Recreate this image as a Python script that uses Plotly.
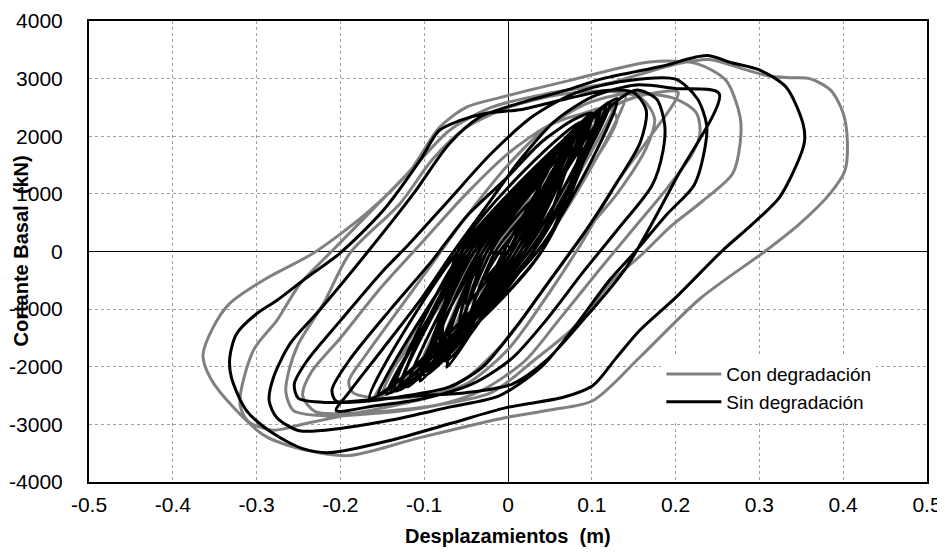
import plotly.graph_objects as go

# ---------------- Data ----------------
# Ticks
x_ticks = [-0.5, -0.4, -0.3, -0.2, -0.1, 0, 0.1, 0.2, 0.3, 0.4, 0.5]
x_tick_labels = ["-0.5", "-0.4", "-0.3", "-0.2", "-0.1", "0", "0.1", "0.2", "0.3", "0.4", "0.5"]
y_ticks = [-4000, -3000, -2000, -1000, 0, 1000, 2000, 3000, 4000]
y_tick_labels = ["-4000", "-3000", "-2000", "-1000", "0", "1000", "2000", "3000", "4000"]

series_names = ["Con degradación", "Sin degradación"]
x_title = "Desplazamientos  (m)"
y_title = "Cortante Basal  (kN)"

# "Con degradación" - small cycles of the dense core (displacement m, shear kN)
con_nucleo = [
    (0.0, 0),
    (-0.025, 0), (0.035, 1000), (0.005, 0), (-0.055, -1000),
    (-0.035, 0), (0.07, 1800), (0.01, 0), (-0.08, -1700),
    (-0.03, 0), (0.095, 2200), (0.015, 0), (-0.10, -2100),
    (-0.04, 0), (0.12, 2500), (0.02, 0), (-0.13, -2400),
    (-0.045, 0), (0.085, 2100), (0.01, 0), (-0.11, -2200),
    (-0.035, 0), (0.13, 2650), (0.025, 0), (-0.15, -2500),
    (-0.05, 0), (0.14, 2700), (0.035, 0), (-0.16, -2550),
    (-0.03, 0), (0.06, 1500), (0.005, 0), (-0.065, -1400),
    (-0.02, 0), (0.03, 800), (0.0, 0), (-0.035, -600),
]

# "Con degradación" - large cycles
con_ciclos = [
    (-0.01, 0), (0.04, 1100), (0.09, 2000), (0.13, 2550), (0.17, 2740), (0.203, 2760),
    (0.17, 2000), (0.13, 1200), (0.09, 200), (0.05, -700), (0.0, -1700), (-0.05, -2300),
    (-0.10, -2500), (-0.15, -2550), (-0.185, -2450), (-0.19, -2250),
    (-0.17, -1800), (-0.13, -1000), (-0.09, -200), (-0.05, 600), (0.0, 1500), (0.05, 2200),
    (0.10, 2600), (0.15, 2750), (0.20, 2650), (0.225, 2400), (0.229, 2040), (0.22, 1700),
    (0.19, 1100), (0.15, 400), (0.11, -300), (0.06, -1200), (0.02, -1900), (-0.03, -2400),
    (-0.08, -2650), (-0.15, -2800), (-0.22, -2850), (-0.256, -2760), (-0.265, -2450), (-0.262, -2100),
    (-0.25, -1600), (-0.22, -900), (-0.189, -35), (-0.129, 830), (-0.09, 1600), (-0.05, 2150),
    (0.0, 2500), (0.06, 2720), (0.12, 2780), (0.16, 2650), (0.175, 2300), (0.165, 1800),
    (0.13, 1000), (0.09, 300), (0.04, -700), (0.0, -1500), (-0.05, -2200), (-0.10, -2550),
    (-0.18, -2800), (-0.24, -2980), (-0.28, -3100), (-0.31, -2950), (-0.32, -2640),
    (-0.304, -1720), (-0.276, -1200), (-0.248, -560), (-0.213, -35), (-0.16, 750), (-0.11, 1500),
    (-0.07, 2100), (-0.02, 2500), (0.05, 2750), (0.12, 2920), (0.20, 3250), (0.24, 3330),
    (0.28, 3170), (0.31, 3050), (0.336, 3015), (0.36, 3000), (0.385, 2800), (0.40, 2400),
    (0.405, 1900), (0.402, 1400), (0.384, 1000), (0.348, 480), (0.308, 17), (0.229, -820),
    (0.157, -1840), (0.101, -2590), (0.05, -2750), (-0.002, -2880), (-0.105, -3230),
    (-0.189, -3540), (-0.24, -3450), (-0.29, -3200), (-0.328, -2700), (-0.355, -2200),
    (-0.364, -1800), (-0.352, -1320), (-0.332, -900), (-0.29, -480), (-0.233, -35),
    (-0.169, 660), (-0.117, 1400), (-0.082, 2150), (-0.05, 2500), (-0.01, 2670), (0.074, 2970),
    (0.169, 3290), (0.225, 3260), (0.26, 2970), (0.277, 2330), (0.277, 1875), (0.268, 1350),
    (0.233, 885), (0.193, 420), (0.161, -35), (0.125, -500), (0.08, -1300), (0.03, -1900),
    (-0.02, -2450), (-0.10, -2700), (-0.18, -2800), (-0.23, -2780), (-0.245, -2500),
    (-0.235, -2100), (-0.20, -1500), (-0.15, -600), (-0.10, 200), (-0.05, 1000), (0.0, 1700),
    (0.05, 2200), (0.09, 2400), (0.12, 2500), (0.13, 2300), (0.10, 1500), (0.05, 500), (0.0, 0),
]

# "Sin degradación" - small cycles of the dense core
sin_nucleo = [
    (0.0, 0),
    (-0.02, 0), (0.03, 900), (0.0, 0), (-0.05, -900),
    (-0.03, 0), (0.06, 1600), (0.005, 0), (-0.07, -1500),
    (-0.03, 0), (0.086, 2220), (0.01, 0), (-0.097, -2070),
    (-0.035, 0), (0.10, 2400), (0.015, 0), (-0.073, -2010),
    (-0.02, 0), (0.07, 1900), (0.0, 0), (-0.054, -1370),
    (-0.025, 0), (0.117, 2530), (0.02, 0), (-0.12, -2350),
    (-0.04, 0), (0.09, 2150), (0.01, 0), (-0.105, -2250),
    (-0.04, 0), (0.122, 2600), (0.025, 0), (-0.14, -2450),
    (-0.045, 0), (0.08, 2050), (0.0, 0), (-0.085, -1950),
    (-0.03, 0), (0.05, 1500), (-0.005, 0), (-0.06, -1600),
    (-0.035, 0), (0.11, 2450), (0.02, 0), (-0.155, -2500),
    (-0.05, 0), (0.095, 2300), (0.015, 0), (-0.11, -2200),
    (-0.03, 0), (0.075, 2000), (0.005, 0), (-0.08, -1800),
    (-0.055, 0), (0.105, 2350), (0.03, 0), (-0.13, -2400),
    (-0.045, 0), (0.065, 1750), (0.01, 0), (-0.095, -2100),
    (-0.05, 0), (0.115, 2500), (0.03, 0), (-0.145, -2480),
    (-0.04, 0), (0.085, 2100), (0.02, 0), (-0.075, -1900),
    (-0.06, 0), (0.09, 2250), (0.04, 0), (-0.125, -2300),
    (-0.05, 0), (0.13, 2650), (0.035, 0), (-0.165, -2550),
    (-0.06, 0), (0.075, 1950), (0.03, 0), (-0.10, -2150),
    (-0.045, 0), (0.105, 2400), (0.04, 0), (-0.135, -2420),
    (-0.055, 0), (0.06, 1700), (0.02, 0), (-0.09, -2000),
    (-0.025, 0), (0.04, 1200), (0.0, 0), (-0.045, -1100),
    (-0.015, 0), (0.025, 700), (0.0, 0), (-0.03, -500),
]

# "Sin degradación" - large cycles
sin_ciclos = [
    (-0.01, 0), (0.03, 700), (0.07, 1500), (0.10, 2100), (0.125, 2550), (0.153, 2800),
    (0.177, 2650), (0.187, 2200), (0.185, 1750), (0.172, 1150), (0.133, 420), (0.09, -350),
    (0.045, -1200), (0.005, -1850), (-0.04, -2280), (-0.10, -2550), (-0.16, -2680), (-0.205, -2760),
    (-0.19, -2450), (-0.15, -1700), (-0.105, -850), (-0.065, 0), (-0.025, 800), (0.015, 1600),
    (0.055, 2250), (0.10, 2680), (0.153, 2890), (0.20, 2830), (0.252, 2740),
    (0.20, 1250), (0.141, -280), (0.095, -1100), (0.045, -1900), (0.005, -2300), (-0.05, -2450),
    (-0.105, -2500), (-0.17, -2580), (-0.215, -2620), (-0.25, -2550), (-0.255, -2300),
    (-0.24, -1900), (-0.20, -1200), (-0.15, -350), (-0.12, 100), (-0.07, 900), (-0.02, 1700),
    (0.03, 2350), (0.08, 2750), (0.14, 2960), (0.20, 2990), (0.226, 2650), (0.237, 2200),
    (0.235, 1800), (0.222, 1150), (0.19, 650), (0.152, 0), (0.121, -500), (0.08, -1300),
    (0.04, -2000), (-0.01, -2500), (-0.07, -2700), (-0.141, -2930), (-0.20, -3070),
    (-0.249, -3110), (-0.276, -2880), (-0.285, -2590),
    (-0.28, -2190), (-0.26, -1600), (-0.225, -1020), (-0.169, -35), (-0.113, 1000), (-0.07, 1870),
    (-0.034, 2330), (0.02, 2600), (0.07, 2800), (0.113, 3000), (0.185, 3220), (0.237, 3400),
    (0.268, 3270), (0.30, 3150), (0.332, 2850), (0.352, 2220), (0.354, 1930), (0.348, 1630),
    (0.324, 940), (0.292, 480), (0.256, 17), (0.20, -800), (0.157, -1370), (0.129, -1850),
    (0.101, -2330), (0.066, -2530), (-0.002, -2710), (-0.07, -2990), (-0.141, -3280),
    (-0.213, -3490), (-0.245, -3420), (-0.28, -3160), (-0.312, -2760), (-0.33, -2190),
    (-0.332, -1840), (-0.324, -1430), (-0.30, -1080), (-0.276, -850), (-0.24, -450), (-0.201, -35),
    (-0.149, 710), (-0.105, 1580), (-0.082, 2100), (-0.058, 2270), (-0.026, 2400), (0.014, 2460),
    (0.07, 2650), (0.12, 2800), (0.15, 2760), (0.165, 2450), (0.158, 1900), (0.13, 1200),
    (0.09, 300), (0.05, -500), (0.01, -1300), (-0.03, -2000), (-0.07, -2350), (-0.12, -2500),
    (-0.17, -2600), (-0.205, -2600), (-0.21, -2400),
    (-0.19, -1900), (-0.14, -1000), (-0.09, -150), (-0.05, 600), (0.0, 1300), (0.04, 1900),
    (0.08, 2300), (0.10, 2400), (0.09, 1900), (0.05, 1000), (0.0, 0),
]

# ---------------- Figure ----------------
def unzip(*segments):
    xs, ys = [], []
    for seg in segments:
        for x, y in seg:
            xs.append(x)
            ys.append(y)
    return xs, ys

con_x, con_y = unzip(con_nucleo, con_ciclos)
sin_x, sin_y = unzip(sin_nucleo, sin_ciclos)

FONT = "Liberation Sans, Arial, sans-serif"

fig = go.Figure()
fig.add_trace(go.Scatter(
    x=con_x, y=con_y, mode="lines", name=series_names[0],
    line=dict(color="rgb(128,128,128)", width=3, shape="spline", smoothing=0.8),
))
fig.add_trace(go.Scatter(
    x=sin_x, y=sin_y, mode="lines", name=series_names[1],
    line=dict(color="black", width=3, shape="spline", smoothing=0.8),
))

axis_common = dict(
    showline=True, linecolor="black", linewidth=2, mirror=True,
    showgrid=True, gridcolor="#a0a0a0", gridwidth=1, griddash="dot",
    zeroline=True, zerolinecolor="black", zerolinewidth=1,
    ticks="", tickfont=dict(family=FONT, size=21, color="black"),
    automargin=False,
)

fig.update_xaxes(
    range=[-0.5, 0.5], tickvals=x_ticks, ticktext=x_tick_labels,
    ticklabelstandoff=3,
    **axis_common,
)
fig.update_yaxes(
    range=[-4000, 4000], tickvals=y_ticks, ticktext=y_tick_labels,
    ticklabelstandoff=20,
    **axis_common,
)

# Axis titles as annotations (the y title overlaps the tick labels in the reference)
fig.add_annotation(
    text="<b>" + x_title + "</b>", xref="paper", yref="paper",
    x=0.5, y=-0.117, xanchor="center", yanchor="middle", showarrow=False,
    font=dict(family=FONT, size=20, color="black"),
)
fig.add_annotation(
    text="<b>" + y_title + "</b>", xref="paper", yref="paper",
    x=-0.0823, y=0.5, xanchor="center", yanchor="middle", showarrow=False,
    textangle=-90, font=dict(family=FONT, size=20, color="black"),
)

# The page body adds an 8px offset; size the figure so the plot area lands where the reference has it
fig.update_layout(
    width=937, height=544,
    margin=dict(l=81, r=18, t=13, b=70),
    paper_bgcolor="white", plot_bgcolor="white",
    font=dict(family=FONT, size=20, color="black"),
    legend=dict(x=0.683, y=0.275, xanchor="left", yanchor="top",
                bgcolor="white", borderwidth=0, itemwidth=55,
                font=dict(family=FONT, size=19, color="black"),
                tracegroupgap=0),
    showlegend=True,
)

fig.write_html("out.html")
